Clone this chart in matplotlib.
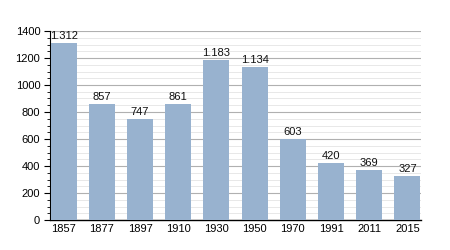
import matplotlib
matplotlib.use("Agg")
import matplotlib.pyplot as plt
from matplotlib.ticker import MultipleLocator

years = ["1857", "1877", "1897", "1910", "1930", "1950", "1970", "1991", "2011", "2015"]
population = [1312, 857, 747, 861, 1183, 1134, 603, 420, 369, 327]
value_labels = ["1.312", "857", "747", "861", "1.183", "1.134", "603", "420", "369", "327"]

plt.rcParams['font.family'] = ['Liberation Sans', 'DejaVu Sans']
fig = plt.figure(figsize=(4.5, 2.5), dpi=100)
ax = fig.add_axes([0.111, 0.12, 0.825, 0.756])

x = list(range(len(years)))
ax.bar(x, population, width=0.68, color='#98b2cf', zorder=3)
for xi, v, lab in zip(x, population, value_labels):
    ax.text(xi, v + 14, lab, ha='center', va='bottom', fontsize=8, color='#111111', zorder=4)

ax.set_xlim(-0.36, len(years) - 0.64)
ax.set_ylim(0, 1400)
ax.set_xticks(x)
ax.set_xticklabels(years, fontsize=8)
ax.yaxis.set_major_locator(MultipleLocator(200))
ax.yaxis.set_minor_locator(MultipleLocator(50))
ax.tick_params(axis='y', which='major', labelsize=8, length=4, width=0.8, pad=3)
ax.tick_params(axis='y', which='minor', length=2, width=0.6)
ax.tick_params(axis='x', length=0, pad=3)
ax.grid(axis='y', which='major', color='#b0b0b0', linewidth=0.8, zorder=1)
ax.grid(axis='y', which='minor', color='#e4e4e4', linewidth=0.6, zorder=0)
for s in ['top', 'right']:
    ax.spines[s].set_visible(False)
ax.spines['left'].set_linewidth(0.8)
ax.spines['bottom'].set_linewidth(1.0)

fig.savefig('out.png', dpi=100)
